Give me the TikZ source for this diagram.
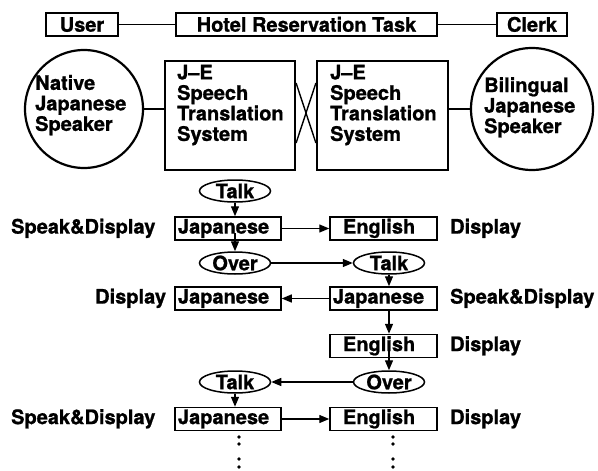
\documentclass[tikz,border=0pt]{standalone}
\usepackage{fontspec}
\setmainfont{TeX Gyre Heros}[BoldFeatures={FakeBold=0.9}]
\usetikzlibrary{shapes.geometric,arrows.meta,calc}
\begin{document}
\begin{tikzpicture}[x=1pt,y=-1pt,
  every node/.style={font=\fontsize{20}{20}\selectfont\bfseries},
  conn/.style={line width=1.4pt},
  arr/.style={line width=1.4pt,-{Triangle[length=10pt,width=8pt]}},
  topbox/.style={draw,line width=1.5pt,minimum height=23pt,inner sep=0pt,text height=14.4pt,text depth=0pt},
  sysbox/.style={draw,line width=2.2pt,minimum height=109pt,inner sep=0pt},
  person/.style={circle,draw,line width=2.2pt,inner sep=0pt},
  blocktext/.style={align=left,inner sep=0pt,anchor=north west,font=\fontsize{20}{20.5}\selectfont\bfseries},
  lbox/.style={draw,line width=1.5pt,minimum height=23pt,text height=14.4pt,text depth=4.2pt,inner ysep=0pt,align=left},
  ljbox/.style={lbox,inner xsep=3pt,text width=100pt},
  rjbox/.style={lbox,inner xsep=3pt,text width=101pt},
  ebox/.style={lbox,inner xsep=13pt,text width=81pt},
  oval/.style={ellipse,draw,line width=1.5pt,minimum width=71pt,minimum height=22pt,inner sep=0pt},
  lbl/.style={inner sep=0pt,anchor=west,text height=14.4pt,text depth=4.2pt}]
\useasboundingbox (0,0) rectangle (598,471);

% top row
\node[topbox,minimum width=72pt] (user) at (82,24.5) {User};
\node[topbox,minimum width=261pt] (hotel) at (306.5,24.5) {Hotel Reservation Task};
\node[topbox,minimum width=70pt] (clerk) at (532,24.5) {Clerk};
\draw[conn] (user) -- (hotel);
\draw[conn] (hotel) -- (clerk);

% speakers and systems
\node[person,minimum size=118pt] (nat) at (84,109) {};
\node[blocktext] (natt) at (35,74.8) {Native\\Japanese\\Speaker};
\node[sysbox,minimum width=130pt] (sys1) at (230,115.5) {};
\node[blocktext] (sys1t) at (177,64.6) {J–E\\Speech\\Translation\\System};
\node[sysbox,minimum width=131pt] (sys2) at (382.5,115.5) {};
\node[blocktext] (sys2t) at (330,64.6) {J–E\\Speech\\Translation\\System};
\node[person,minimum size=122pt] (bil) at (532,109) {};
\node[blocktext] (bilt) at (484,77) {Bilingual\\Japanese\\Speaker};
\draw[conn] (nat.east) -- (nat.east -| sys1.west);
\draw[conn] (sys2.east |- bil.west) -- (bil.west);
\draw[conn] ($(sys1.east)+(0,-32.5)$) -- ($(sys2.west)+(0,27.5)$);
\draw[conn] ($(sys1.east)+(0,27.5)$) -- ($(sys2.west)+(0,-32.5)$);

% dialogue flow
\node[oval] (talk1) at (235,191) {Talk};
\node[ljbox] (jap1) at (228,228.5) {Japanese};
\node[ebox] (eng1) at (383.5,228.5) {English};
\node[oval] (over1) at (235,263) {Over};
\node[oval] (talk2) at (389,263) {Talk};
\node[ljbox] (jap3l) at (228,298.5) {Japanese};
\node[rjbox] (jap3r) at (383.5,298.5) {Japanese};
\node[ebox] (eng4) at (383.5,346) {English};
\node[oval] (talk3) at (235,382) {Talk};
\node[oval] (over2) at (389,382) {Over};
\node[ljbox] (jap6) at (228,419) {Japanese};
\node[ebox] (eng6) at (383.5,419) {English};

\node[lbl] (sd1) at (11,228.5) {Speak\&Display};
\node[lbl] (d1) at (450,228.5) {Display};
\node[lbl] (d3) at (95,298.5) {Display};
\node[lbl] (sd3) at (450,298.5) {Speak\&Display};
\node[lbl] (d4) at (450,346) {Display};
\node[lbl] (sd6) at (11,419) {Speak\&Display};
\node[lbl] (d6) at (450,419) {Display};

\draw[arr] (talk1.south) -- (talk1.south |- jap1.north);
\draw[arr] ($(over1.north |- jap1.south)+(0,-8)$) -- (over1.north);
\draw[arr] (jap1) -- (eng1);
\draw[arr] (over1) -- (talk2);
\draw[arr] (talk2.south) -- (talk2.south |- jap3r.north);
\draw[arr] (jap3r) -- (jap3l);
\draw[arr] (jap3r.south -| over2.north) -- (eng4.north -| over2.north);
\draw[arr] ($(over2.north |- eng4.south)+(0,-8)$) -- (over2.north);
\draw[arr] (over2) -- (talk3);
\draw[arr] (talk3.south) -- (talk3.south |- jap6.north);
\draw[arr] (jap6) -- (eng6);

% continuation dots
\foreach \yy in {437,444,459,467} {
  \fill (239,\yy) circle (1.9pt);
  \fill (393,\yy) circle (1.9pt);
}
\end{tikzpicture}
\end{document}
